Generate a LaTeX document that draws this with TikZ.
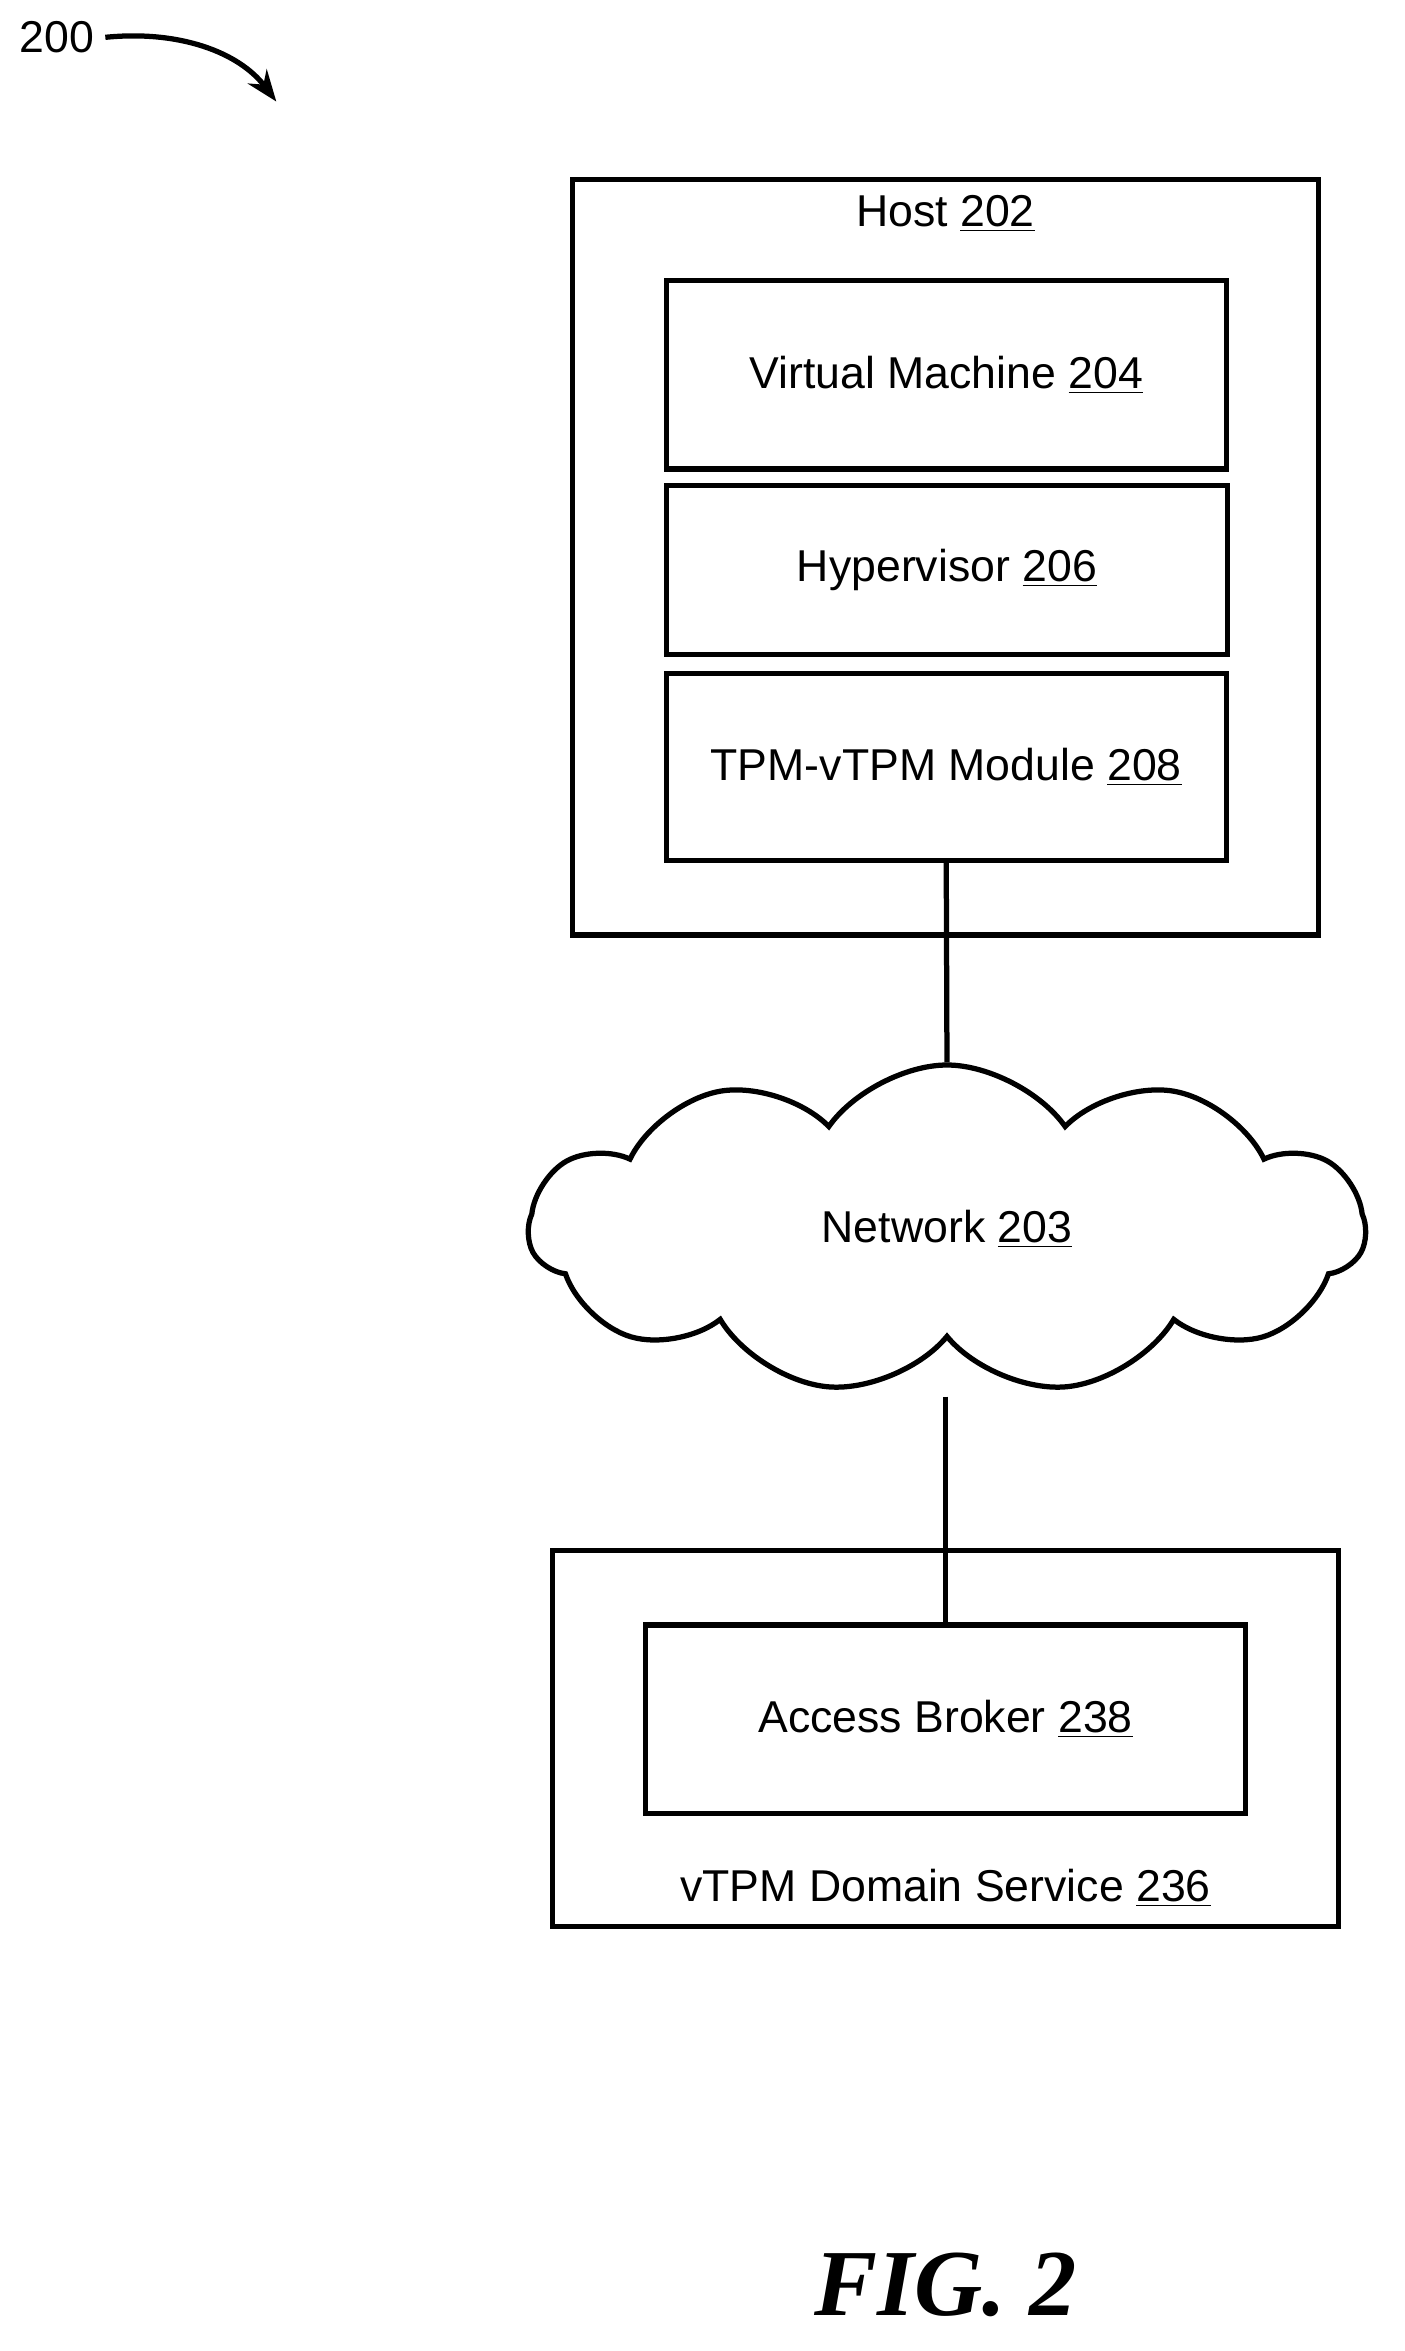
\documentclass[tikz,border=0pt]{standalone}
\usepackage{fontspec}
\setmainfont{Liberation Sans}
\newfontfamily\figfont{Liberation Serif}
\usetikzlibrary{shapes.symbols,arrows.meta}
\begin{document}
\begin{tikzpicture}[x=0.02cm,y=-0.02cm,line width=2pt]
    % `box' is used for every rectangle, `cloudy' for the network.
    \tikzstyle{box} = [draw,rectangle,inner sep=0pt]
    \tikzstyle{label} = [font=\fontsize{17}{20}\selectfont]
    \tikzstyle{cloudy} = [draw,cloud,cloud puffs=11,cloud puff arc=110,aspect=2.6,
                          minimum width=11.2cm,minimum height=4.4cm,font=\fontsize{17}{20}\selectfont]
    \useasboundingbox (0,0) rectangle (940,1574);
    %
    \node[label] (fignum) at (38,25) {200};
    \coordinate (figtip) at (185,68);
    \draw[-{Stealth[length=12pt,width=9pt]}] (fignum.east) .. controls (120,20) and (160,35) .. (figtip);
    %
    \node[box,minimum width=10cm,minimum height=10.12cm] (host) at (633,373) {};
    \node[label] (hostlbl) at (633,143) {Host \underline{202}};
    \node[box,label,minimum width=7.5cm,minimum height=2.52cm] (vm) at (633.5,251) {Virtual Machine \underline{204}};
    \node[box,label,minimum width=7.52cm,minimum height=2.26cm] (hyp) at (634,381.5) {Hypervisor \underline{206}};
    \node[box,label,minimum width=7.5cm,minimum height=2.5cm] (tpm) at (633.5,513.5) {TPM-vTPM Module \underline{208}};
    %
    \node[cloudy] (net) at (634,823) {Network \underline{203}};
    \coordinate (netbottom) at (633,935);
    %
    \node[box,minimum width=10.52cm,minimum height=5.04cm] (domain) at (633,1164) {};
    \node[box,label,minimum width=8.04cm,minimum height=2.52cm] (broker) at (633,1151) {Access Broker \underline{238}};
    \node[label] (domlbl) at (633,1264) {vTPM Domain Service \underline{236}};
    %
    \draw (tpm.south) -- (net.north);
    \draw (netbottom) -- (broker.north);
    %
    \node[font=\figfont\bfseries\itshape\fontsize{36}{40}\selectfont] (fig) at (633,1530) {FIG. 2};
\end{tikzpicture}
\end{document}
